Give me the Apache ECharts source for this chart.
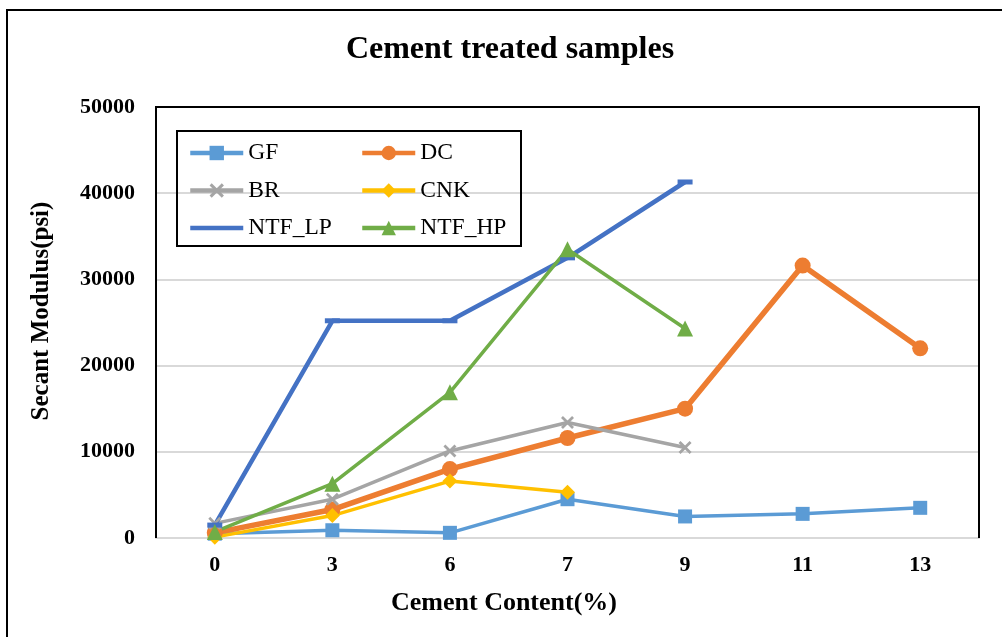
<!DOCTYPE html>
<html>
<head>
<meta charset="utf-8">
<script src="https://cdn.jsdelivr.net/npm/echarts@6/dist/echarts.min.js"></script>
<style>html,body{margin:0;padding:0;background:#fff}#c{width:1002px;height:637px}</style>
</head>
<body>
<div id="c"></div>
<script>
const categories = ['0', '3', '6', '7', '9', '11', '13'];
const yTicks = [0, 10000, 20000, 30000, 40000, 50000];
const GF = [500, 900, 600, 4500, 2500, 2800, 3500];
const DC = [600, 3300, 8000, 11600, 15000, 31600, 22000];
const BR = [1700, 4500, 10100, 13400, 10500, null, null];
const CNK = [100, 2600, 6600, 5300, null, null, null];
const NTF_LP = [1500, 25200, 25200, 32500, 41300, null, null];
const NTF_HP = [700, 6300, 16900, 33500, 24300, null, null];

const FONT = '"Liberation Serif", "Times New Roman", serif';
const chart = echarts.init(document.getElementById('c'));
const xPath = 'path://M0,1.5 L1.5,0 L5,3.5 L8.5,0 L10,1.5 L6.5,5 L10,8.5 L8.5,10 L5,6.5 L1.5,10 L0,8.5 L3.5,5 Z';

function mk(name, data, color, symbol, size, width) {
  return {
    name, type: 'line', data, symbol, symbolSize: size, showSymbol: true,
    connectNulls: false,
    itemStyle: { color: color },
    lineStyle: { color: color, width: width },
    emphasis: { disabled: true },
    animation: false
  };
}
function li(name, hideSymbol) {
  const o = { name: name, lineStyle: { width: 4.5 } };
  if (hideSymbol) o.itemStyle = { opacity: 0 };
  return o;
}

const legendText = { fontFamily: FONT, fontSize: 23.5, color: '#000', lineHeight: 24 };
const legendBase = { orient: 'vertical', top: 141, padding: 0, itemWidth: 53, itemHeight: 18,
  itemGap: 13.5, textStyle: legendText, selectedMode: false };
chart.setOption({
  backgroundColor: '#fff',
  animation: false,
  title: {
    text: 'Cement treated samples', left: 505, top: 29, textAlign: 'center',
    textStyle: { fontFamily: FONT, fontSize: 32, fontWeight: 'bold', color: '#000' }
  },
  grid: { left: 156, right: 23, top: 107, bottom: 99, containLabel: false },
  legend: [
    Object.assign({ data: [li('GF'), li('BR'), li('NTF_LP', true)], left: 188 }, legendBase),
    Object.assign({ data: [li('DC'), li('CNK'), li('NTF_HP')], left: 360 }, legendBase)
  ],
  xAxis: {
    type: 'category', data: categories, boundaryGap: true,
    axisLine: { lineStyle: { color: '#d9d9d9', width: 2 } },
    axisTick: { show: false },
    axisLabel: { fontFamily: FONT, fontSize: 22, fontWeight: 'bold', color: '#000', margin: 16 }
  },
  yAxis: {
    type: 'value', min: yTicks[0], max: yTicks[yTicks.length - 1], interval: 10000,
    axisLine: { show: false }, axisTick: { show: false },
    splitLine: { lineStyle: { color: '#d9d9d9', width: 2 } },
    axisLabel: { fontFamily: FONT, fontSize: 22, fontWeight: 'bold', color: '#000', margin: 21,
      formatter: function (v) { return String(v); } }
  },
  graphic: [
    { type: 'rect', shape: { x: 7, y: 10, width: 1100, height: 700 }, style: { fill: 'none', stroke: '#000', lineWidth: 2 }, z: 100 },
    { type: 'polyline', shape: { points: [[156, 538], [156, 107], [979, 107], [979, 538]] }, style: { fill: 'none', stroke: '#000', lineWidth: 2 }, z: 100 },
    { type: 'rect', shape: { x: 177, y: 131, width: 344, height: 115 }, style: { fill: 'none', stroke: '#000', lineWidth: 2 }, z: 100 },
    { type: 'text', x: 504, y: 603, style: { text: 'Cement Content(%)', fontFamily: FONT, fontSize: 26, fontWeight: 'bold', fill: '#000', textAlign: 'center', textVerticalAlign: 'middle' }, z: 100 },
    { type: 'text', x: 42, y: 311, rotation: Math.PI / 2, style: { text: 'Secant Modulus(psi)', fontFamily: FONT, fontSize: 25, fontWeight: 'bold', fill: '#000', textAlign: 'center', textVerticalAlign: 'middle' }, z: 100 }
  ],
  series: [
    mk('GF', GF, '#5b9bd5', 'rect', 14, 3.5),
    mk('DC', DC, '#ed7d31', 'circle', 16, 5.5),
    mk('BR', BR, '#a5a5a5', xPath, 13, 3.5),
    mk('CNK', CNK, '#ffc000', 'diamond', 15, 3.5),
    mk('NTF_LP', NTF_LP, '#4472c4', 'rect', [15, 5], 4.5),
    mk('NTF_HP', NTF_HP, '#70ad47', 'triangle', 16, 3.5)
  ]
});
</script>
</body>
</html>
